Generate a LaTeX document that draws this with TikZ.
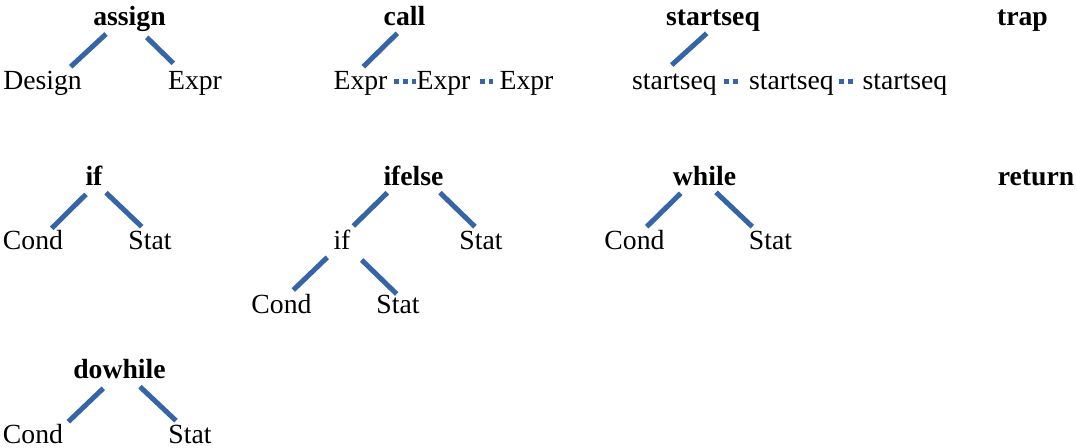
\documentclass[tikz,border=0pt]{standalone}
\usepackage{fontspec}
\setmainfont{Liberation Serif}
\definecolor{azul rama}{RGB}{53,101,166}

\begin{document}
\begin{tikzpicture}[x=0.5pt,y=-0.5pt]
\tikzstyle{head text}=[font=\fontsize{13.85}{16.6}\selectfont\bfseries,inner sep=0,anchor=base]
\tikzstyle{leaf text}=[font=\fontsize{13.85}{16.6}\selectfont,inner sep=0,anchor=base]
\tikzstyle{branch}=[draw=azul rama,line width=2.5pt]
\tikzstyle{sibling}=[draw=azul rama,line width=2.5pt,dash pattern=on 2.5pt off 2pt]

\useasboundingbox (0,0) rectangle (1077,447);

% first row
\node[head text] (assign) at (129.5,25) {assign};
\node[leaf text] (design) at (42.5,89) {Design};
\node[leaf text] (expr) at (195,89) {Expr};

\node[head text] (call) at (404.5,25) {call};
\node[leaf text] (expr1) at (360.5,89) {Expr};
\node[leaf text] (expr2) at (443.5,89) {Expr};
\node[leaf text] (expr3) at (526.5,89) {Expr};

\node[head text] (startseq) at (713,25) {startseq};
\node[leaf text] (seq1) at (674.5,89) {startseq};
\node[leaf text] (seq2) at (791.5,89) {startseq};
\node[leaf text] (seq3) at (905,89) {startseq};

\node[head text] (trap) at (1022.5,25) {trap};

% second row
\node[head text] (if) at (94,185) {if};
\node[leaf text] (ifcond) at (33,249) {Cond};
\node[leaf text] (ifstat) at (150,249) {Stat};

\node[head text] (ifelse) at (413.5,185) {ifelse};
\node[leaf text] (inif) at (342,249) {if};
\node[leaf text] (elsestat) at (481,249) {Stat};
\node[leaf text] (incond) at (281.5,313) {Cond};
\node[leaf text] (instat) at (398,313) {Stat};

\node[head text] (while) at (704.5,185) {while};
\node[leaf text] (whcond) at (634.5,249) {Cond};
\node[leaf text] (whstat) at (770.5,249) {Stat};

\node[head text] (return) at (1036,185) {return};

% third row
\node[head text] (dowhile) at (119.5,378) {dowhile};
\node[leaf text] (docond) at (33,443) {Cond};
\node[leaf text] (dostat) at (190,443) {Stat};

 \draw[branch] ([shift={(-23.5,9)}]assign.base) -- ([shift={(28.2,-22.3)}]design.base);
 \draw[branch] ([shift={(17.2,12.3)}]assign.base) -- ([shift={(-21.7,-25.7)}]expr.base);
 \draw[branch] ([shift={(-7.2,8.3)}]call.base) -- ([shift={(2.8,-22.3)}]expr1.base);
 \draw[sibling] ([shift={(6,-8)}]expr1.base east) -- ([shift={(0,-8)}]expr2.base west);
 \draw[sibling] ([shift={(9,-8)}]expr2.base east) -- ([shift={(-6,-8)}]expr3.base west);
 \draw[branch] ([shift={(-6.3,8.3)}]startseq.base) -- ([shift={(-2.8,-24)}]seq1.base);
 \draw[sibling] ([shift={(6.5,-8)}]seq1.base east) -- ([shift={(-11,-8)}]seq2.base west);
 \draw[sibling] ([shift={(4.5,-8)}]seq2.base east) -- ([shift={(-7,-8)}]seq3.base west);

 \draw[branch] ([shift={(-8,9.3)}]if.base) -- ([shift={(18.7,-20.7)}]ifcond.base);
 \draw[branch] ([shift={(12,7.7)}]if.base) -- ([shift={(-8.3,-22.3)}]ifstat.base);
 \draw[branch] ([shift={(-26.2,7.7)}]ifelse.base) -- ([shift={(11.3,-23)}]inif.base);
 \draw[branch] ([shift={(26.5,7.7)}]ifelse.base) -- ([shift={(-6,-22.3)}]elsestat.base);
 \draw[branch] ([shift={(-14.7,8.3)}]inif.base) -- ([shift={(11.8,-23)}]incond.base);
 \draw[branch] ([shift={(19.7,11)}]inif.base) -- ([shift={(-1.3,-19)}]instat.base);
 \draw[branch] ([shift={(-23.8,8.3)}]while.base) -- ([shift={(12.2,-22.3)}]whcond.base);
 \draw[branch] ([shift={(11.5,7.3)}]while.base) -- ([shift={(-18.2,-22.3)}]whstat.base);

 \draw[branch] ([shift={(-16.2,10.3)}]dowhile.base) -- ([shift={(35.3,-21.3)}]docond.base);
 \draw[branch] ([shift={(20.5,8.7)}]dowhile.base) -- ([shift={(-14,-22.3)}]dostat.base);
\end{tikzpicture}
\end{document}
